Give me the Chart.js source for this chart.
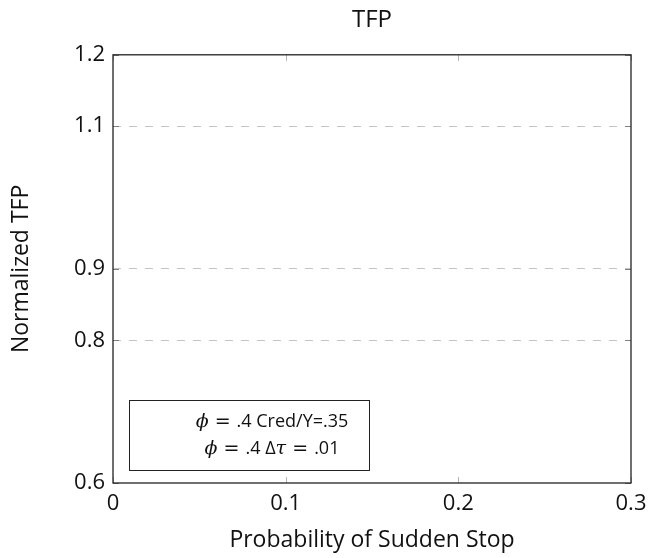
<!DOCTYPE html>
<html>
<head>
<meta charset="utf-8">
<script src="https://cdn.jsdelivr.net/npm/chart.js@4.4.1/dist/chart.umd.min.js"></script>
<style>
  html, body { margin: 0; padding: 0; background: #fff; }
  #wrap { width: 651px; height: 558px; }
</style>
</head>
<body>
<div id="wrap"><canvas id="myChart" width="651" height="558"></canvas></div>
<script>
// data
const xTicks = [0, 0.1, 0.2, 0.3];
const yTicks = [0.6, 0.8, 0.9, 1.1, 1.2];
const gridValues = [0.8, 0.9, 1.1];
// both series lie outside the visible window, nothing is drawn
const credSeries = [];
const tauSeries = [];
const legendLabels = [
  [['ϕ', 'math'], [' = ', 'op'], ['.4 Cred/Y=.35', 'text']],
  [['ϕ', 'math'], [' = ', 'op'], ['.4 Δ', 'text'], ['τ', 'math'], [' = ', 'op'], ['.01', 'text']]
];

const FONT = 'Open Sans';

const framePlugin = {
  id: 'frame',
  afterDraw(chart) {
    const { ctx, chartArea: a, scales } = chart;
    ctx.save();
    // inward tick marks
    ctx.lineWidth = 1;
    ctx.strokeStyle = '#b4b4b4';
    xTicks.forEach(v => {
      const x = Math.round(scales.x.getPixelForValue(v)) + 0.5;
      ctx.beginPath();
      ctx.moveTo(x, a.bottom); ctx.lineTo(x, a.bottom - 6);
      ctx.moveTo(x, a.top); ctx.lineTo(x, a.top + 6);
      ctx.stroke();
    });
    ctx.strokeStyle = '#808080';
    yTicks.forEach(v => {
      const y = Math.round(scales.y.getPixelForValue(v)) + 0.5;
      ctx.beginPath();
      ctx.moveTo(a.left, y); ctx.lineTo(a.left + 6, y);
      ctx.moveTo(a.right, y); ctx.lineTo(a.right - 6, y);
      ctx.stroke();
    });
    // frame
    ctx.strokeStyle = '#222';
    ctx.lineWidth = 1.3;
    ctx.strokeRect(a.left, a.top, a.right - a.left, a.bottom - a.top);

    // legend
    const lx = a.left + 16, ly = a.bottom - 83, lw = 240, lh = 70;
    ctx.lineWidth = 1;
    ctx.strokeStyle = '#222';
    ctx.fillStyle = '#fff';
    ctx.fillRect(lx, ly, lw, lh);
    ctx.strokeRect(lx + 0.5, ly + 0.5, lw, lh);
    ctx.fillStyle = '#111';
    ctx.textBaseline = 'middle';
    ctx.textAlign = 'left';
    const fontFor = k => k === 'math' ? 'italic 19px "DejaVu Serif"'
      : k === 'op' ? '19px "DejaVu Sans"' : '18px "' + FONT + '"';
    legendLabels.forEach((parts, i) => {
      let w = 0;
      parts.forEach(p => { ctx.font = fontFor(p[1]); w += ctx.measureText(p[0]).width; });
      let x = lx + 143 - w / 2;
      const y = ly + 22 + i * 27;
      parts.forEach(p => {
        ctx.font = fontFor(p[1]);
        ctx.fillText(p[0], x, y);
        x += ctx.measureText(p[0]).width;
      });
    });
    ctx.restore();
  }
};

const ctx = document.getElementById('myChart').getContext('2d');
new Chart(ctx, {
  type: 'line',
  data: {
    datasets: [
      { label: 'ϕ = .4 Cred/Y=.35', data: credSeries, borderColor: '#1f4e9c', pointRadius: 0 },
      { label: 'ϕ = .4 Δτ = .01', data: tauSeries, borderColor: '#c0392b', pointRadius: 0 }
    ]
  },
  options: {
    responsive: false,
    animation: false,
    layout: { padding: { right: 20 } },
    plugins: {
      legend: { display: false },
      tooltip: { enabled: false },
      title: {
        display: true,
        text: 'TFP',
        fullSize: false,
        color: '#111',
        font: { family: FONT, size: 24, weight: 'normal' },
        padding: { top: 6, bottom: 20 }
      }
    },
    scales: {
      x: {
        type: 'linear',
        min: 0,
        max: 0.3,
        afterBuildTicks: s => { s.ticks = xTicks.map(v => ({ value: v })); },
        afterFit: s => { s.height = 75; s.paddingRight = 0; s.paddingLeft = 0; },
        border: { display: false },
        grid: { display: false, drawTicks: false },
        ticks: {
          padding: 8,
          color: '#111',
          font: { family: FONT, size: 22 },
          callback: v => String(v)
        },
        title: {
          display: true,
          text: 'Probability of Sudden Stop',
          color: '#111',
          font: { family: FONT, size: 23 },
          padding: { top: 0, bottom: 4 }
        }
      },
      y: {
        type: 'linear',
        min: 0.6,
        max: 1.2,
        afterBuildTicks: s => { s.ticks = yTicks.map(v => ({ value: v })); },
        afterFit: s => { s.width = 113; s.paddingTop = 0; s.paddingBottom = 0; },
        border: { display: false, dash: [8, 8] },
        grid: {
          drawTicks: false,
          lineWidth: 1,
          color: c => gridValues.includes(c.tick && c.tick.value) ? '#c4c4c4' : 'rgba(0,0,0,0)'
        },
        ticks: {
          padding: 8,
          color: '#111',
          font: { family: FONT, size: 22 },
          callback: v => String(v)
        },
        title: {
          display: true,
          text: 'Normalized TFP',
          color: '#111',
          font: { family: FONT, size: 23 },
          padding: { top: 8, bottom: 8 }
        }
      }
    }
  },
  plugins: [framePlugin]
});
</script>
</body>
</html>
